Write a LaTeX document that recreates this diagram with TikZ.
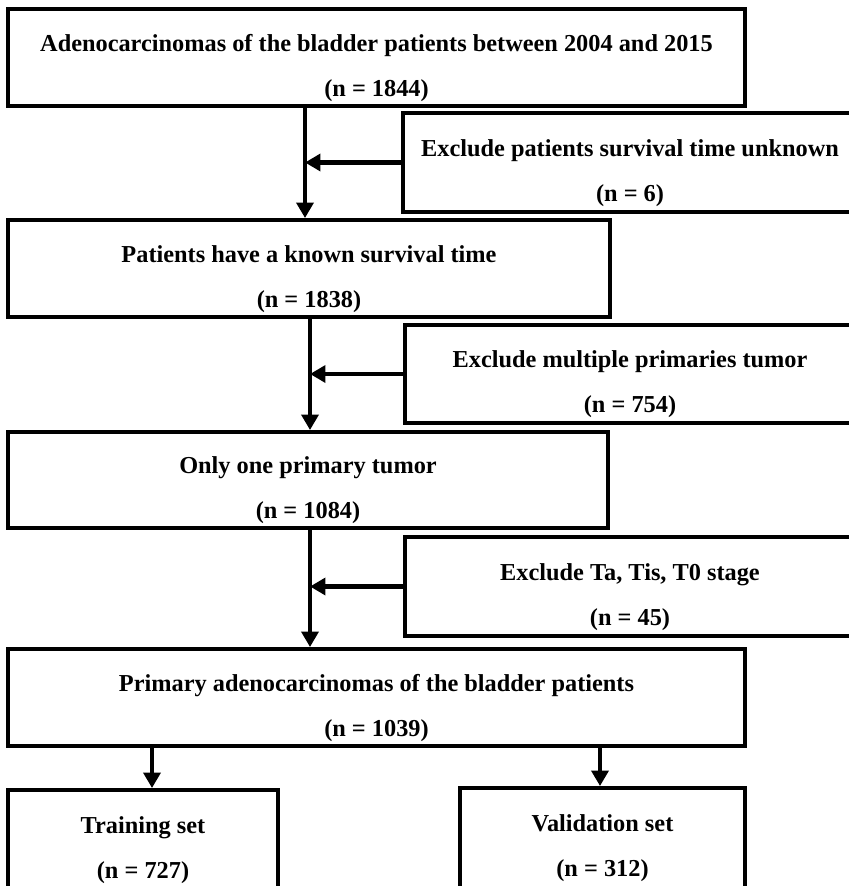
\documentclass[tikz,border=0pt]{standalone}
\usepackage{fontspec}
\setmainfont{Liberation Serif}
\usetikzlibrary{arrows.meta}
\usetikzlibrary{positioning, calc}
\newcommand{\topgap}{\rule{0pt}{27pt}}
\tikzstyle{block} = [draw,rectangle,line width=2.8pt,align=center,inner sep=0pt,font=\fontsize{17.3}{20}\selectfont\bfseries]
\tikzstyle{connector} = [-{Triangle[length=11pt,width=12pt]},line width=3.2pt]

\begin{document}
\begin{tikzpicture}[x=0.025cm,y=-0.025cm]
\useasboundingbox (0,0) rectangle (848,886);

  \node[block, minimum width=737*0.025cm, minimum height=97*0.025cm] (all) at (376.5,57.5)
  {\topgap Adenocarcinomas of the bladder patients between 2004 and 2015\\[11.9pt](n = 1844)};

  \node[block, minimum width=454*0.025cm, minimum height=99*0.025cm] (excl1) at (630,162.5)
  {\topgap Exclude patients survival time unknown\\[11.9pt](n = 6)};

  \node[block, minimum width=602*0.025cm, minimum height=97*0.025cm] (known) at (309,268.5)
  {\topgap Patients have a known survival time\\[11.9pt](n = 1838)};

  \node[block, minimum width=450*0.025cm, minimum height=98*0.025cm] (excl2) at (630,374)
  {\topgap Exclude multiple primaries tumor\\[11.9pt](n = 754)};

  \node[block, minimum width=600*0.025cm, minimum height=96*0.025cm] (single) at (308,480)
  {\topgap Only one primary tumor\\[11.9pt](n = 1084)};

  \node[block, minimum width=450*0.025cm, minimum height=99*0.025cm] (excl3) at (630,586.5)
  {\topgap Exclude Ta, Tis, T0 stage\\[11.9pt](n = 45)};

  \node[block, minimum width=737*0.025cm, minimum height=97*0.025cm] (primary) at (376.5,697.5)
  {\topgap Primary adenocarcinomas of the bladder patients\\[11.9pt](n = 1039)};

  \node[block, minimum width=270*0.025cm, minimum height=100*0.025cm] (train) at (143,840)
  {\topgap Training set\\[11.9pt](n = 727)};

  \node[block, minimum width=285*0.025cm, minimum height=100*0.025cm] (valid) at (602.5,838)
  {\topgap Validation set\\[11.9pt](n = 312)};

% points on the lines
\coordinate (m1) at (305,106);
\coordinate (m2) at (310,317);
\coordinate (m3) at (310,528);
\coordinate (s1) at (152,746);
\coordinate (s2) at (600,746);

% now link the nodes
\draw [connector] (m1) -- (m1 |- known.north);
\draw [connector] (excl1.west) -- (excl1.west -| m1);
\draw [connector] (m2) -- (m2 |- single.north);
\draw [connector] (excl2.west) -- (excl2.west -| m2);
\draw [connector] (m3) -- (m3 |- primary.north);
\draw [connector] (excl3.west) -- (excl3.west -| m3);
\draw [connector] (s1) -- (s1 |- train.north);
\draw [connector] (s2) -- (s2 |- valid.north);
\end{tikzpicture}
\end{document}
